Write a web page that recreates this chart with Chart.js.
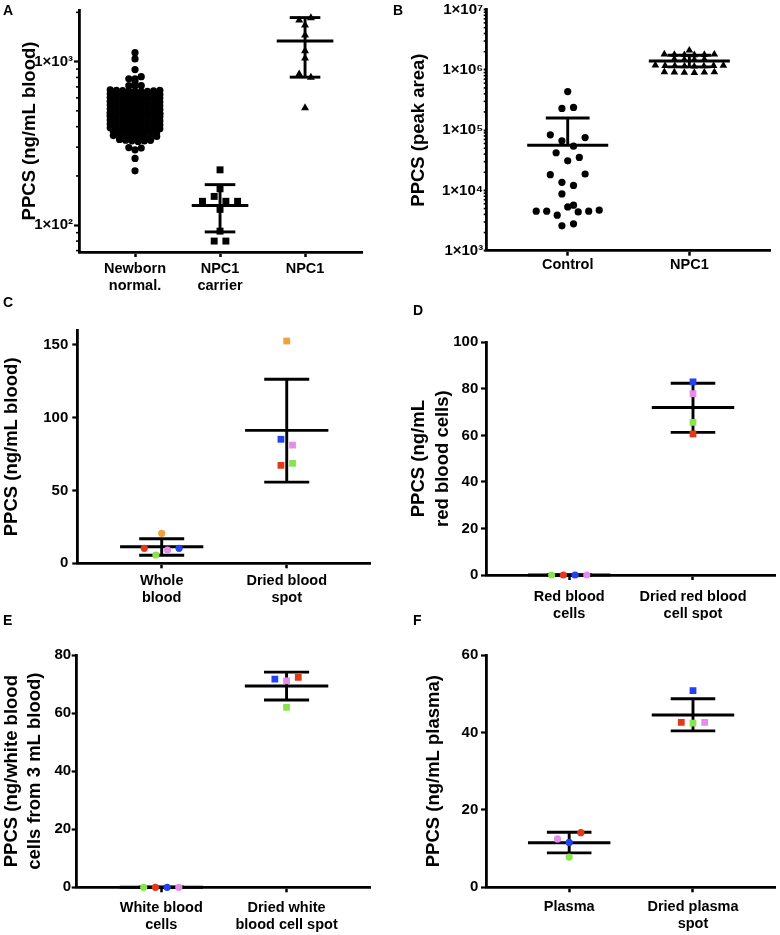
<!DOCTYPE html>
<html><head><meta charset="utf-8">
<script src="https://cdn.jsdelivr.net/npm/chart.js@4.4.1/dist/chart.umd.min.js"></script>
<style>
html,body{margin:0;padding:0;background:#fff}
#wrap{position:relative;width:780px;height:935px;overflow:hidden;background:#fff}
canvas{position:absolute}
.letter{position:absolute;font:bold 14px "Liberation Sans",Arial,sans-serif;line-height:14px;color:#000}
</style></head><body><div id="wrap">
<canvas id="cA" width="390" height="300" style="left:0;top:0"></canvas>
<canvas id="cB" width="390" height="300" style="left:390px;top:0"></canvas>
<canvas id="cC" width="390" height="320" style="left:0;top:300px"></canvas>
<canvas id="cD" width="390" height="320" style="left:390px;top:300px"></canvas>
<canvas id="cE" width="390" height="315" style="left:0;top:620px"></canvas>
<canvas id="cF" width="390" height="315" style="left:390px;top:620px"></canvas>
<div class="letter" style="left:3px;top:3px">A</div>
<div class="letter" style="left:393px;top:3px">B</div>
<div class="letter" style="left:3px;top:295px">C</div>
<div class="letter" style="left:413px;top:303px">D</div>
<div class="letter" style="left:3px;top:613px">E</div>
<div class="letter" style="left:413px;top:613px">F</div>
</div>
<script>
// ---------------- DATA ----------------
const palette = {orange:'#F0A03C', red:'#E2391B', blue:'#2343F0', violet:'#E68CEF', green:'#88E34E'};

// Panel A
const catsA = [['Newborn','normal.'], ['NPC1','carrier'], 'NPC1'];
const newbornA = [
 1134, 1038, 894, 785, 785, 808, 752, 712, 712, 712,
 672, 668, 664, 660, 657, 655, 658, 662, 666,
 636, 632, 628, 625, 622, 620, 623, 626, 630,
 603, 599, 596, 593, 590, 588, 591, 594, 598,
 572, 568, 565, 562, 559, 557, 560, 563, 566,
 543, 539, 536, 533, 530, 528, 531, 534, 537,
 515, 511, 508, 505, 502, 500, 503, 506, 509,
 488, 485, 482, 479, 476, 474, 477, 480, 483,
 463, 460, 457, 454, 451, 449, 452, 455, 458,
 439, 436, 433, 430, 427, 425, 428, 431, 434,
 416, 413, 410, 407, 404, 402, 405, 408, 411,
 394, 391, 388, 385, 383, 381, 384, 386, 389,
 373, 370, 367, 364, 362, 363, 366, 369,
 353, 350, 347, 344, 342, 343, 346, 349,
 334, 331, 328, 325, 327, 330,
 298, 289, 296, 256, 215];
const carrierA = [218, 167, 140, 150, 140, 140, 125, 92, 80, 80];
const npc1A = [1789, 1848, 1669, 1451, 1161, 1047, 838, 800, 521];
const meanA = [477, 132, 1335];
const sdHiA = [650, 177, 1857];
const sdLoA = [330, 91, 803];
const yTicksA = [100, 1000];

// Panel B
const catsB = ['Control', 'NPC1'];
const controlB = [436000, 229000, 238000, 83400, 66400, 54100, 75200, 42100, 30900, 35200,
 18200, 13600, 12100, 18700, 8730, 4520, 4520, 3880, 5320, 4400, 4520, 4700, 5680, 2590, 2790];
const npc1B = [2100000,
 1810000, 1790000, 1770000, 1760000, 1780000, 1800000,
 1500000, 1480000, 1470000, 1490000,
 1190000, 1170000, 1160000, 1150000, 1140000, 1150000, 1170000, 1180000,
 920000, 910000, 900000, 895000, 905000, 915000];
const meanB = [56100, 1400000];
const sdHiB = [159000, 1740000];
const sdLoB = [null, 1120000];
const yTicksB = [1e3, 1e4, 1e5, 1e6, 1e7];

// Panel C
const catsC = [['Whole','blood'], ['Dried blood','spot']];
const wholeColorsC = ['red','green','violet','blue','orange'];
const wholeC = [10.3, 5.7, 9.1, 10.3, 20.6];
const spotColorsC = ['orange','blue','violet','red','green'];
const spotC = [152.7, 85.2, 81.2, 67.3, 68.7];
const meanC = [11.4, 91.3];
const sdHiC = [16.9, 126.4];
const sdLoC = [5.5, 55.8];
const yTicksC = [0, 50, 100, 150];

// Panel D
const catsD = [['Red blood','cells'], ['Dried red blood','cell spot']];
const rbcColorsD = ['green','red','blue','violet'];
const rbcD = [0, 0, 0, 0];
const spotColorsD = ['blue','violet','green','red'];
const spotD = [83.0, 77.9, 65.6, 60.6];
const meanD = [0, 72.0];
const sdHiD = [0, 82.4];
const sdLoD = [0, 61.3];
const yTicksD = [0, 20, 40, 60, 80, 100];

// Panel E
const catsE = [['White blood','cells'], ['Dried white','blood cell spot']];
const wbcColorsE = ['green','red','blue','violet'];
const wbcE = [0, 0, 0, 0];
const spotColorsE = ['blue','violet','red','green'];
const spotE = [71.7, 71.1, 72.3, 62.0];
const meanE = [0, 69.3];
const sdHiE = [0, 74.1];
const sdLoE = [0, 64.5];
const yTicksE = [0, 20, 40, 60, 80];

// Panel F
const catsF = ['Plasma', ['Dried plasma','spot']];
const plasmaColorsF = ['violet','blue','red','green'];
const plasmaF = [12.5, 11.6, 14.1, 7.8];
const spotColorsF = ['blue','red','green','violet'];
const spotF = [50.8, 42.6, 42.4, 42.6];
const meanF = [11.5, 44.5];
const sdHiF = [14.2, 48.7];
const sdLoF = [8.9, 40.4];
const yTicksF = [0, 20, 40, 60];

// ---------------- HELPERS ----------------
const FONT = '"Liberation Sans", Arial, Helvetica, sans-serif';
const SUP = {'0':'⁰','1':'¹','2':'²','3':'³','4':'⁴','5':'⁵','6':'⁶','7':'⁷','8':'⁸','9':'⁹'};
const sci = v => '1×10' + String(Math.round(Math.log10(v))).split('').map(d=>SUP[d]).join('');
const store = {};

const errBars = {id:'errBars', beforeDatasetsDraw(chart){
  const st = store[chart.canvas.id]; if (!st) return;
  const {ctx} = chart; const xs = chart.scales.x, ys = chart.scales.y;
  ctx.save(); ctx.strokeStyle = '#000'; ctx.lineWidth = 2.9; ctx.lineCap = 'butt';
  const seg = (x1, x2, y) => { ctx.beginPath(); ctx.moveTo(xs.getPixelForValue(x1), y); ctx.lineTo(xs.getPixelForValue(x2), y); ctx.stroke(); };
  st.centers.forEach((c, i) => {
    const yM = ys.getPixelForValue(st.means[i]);
    seg(c - 0.333, c + 0.333, yM);
    const yH = ys.getPixelForValue(st.hi[i]);
    seg(c - 0.18, c + 0.18, yH);
    let yL = yM;
    if (st.lo[i] != null) { yL = ys.getPixelForValue(st.lo[i]); seg(c - 0.18, c + 0.18, yL); }
    const xc = xs.getPixelForValue(c);
    ctx.beginPath(); ctx.moveTo(xc, yH); ctx.lineTo(xc, yL); ctx.stroke();
  });
  ctx.restore();
}};

const minorTicks = {id:'minorTicks', afterDraw(chart){
  const st = store[chart.canvas.id]; if (!st || !st.minor) return;
  const ys = chart.scales.y; const {ctx} = chart; const x0 = chart.chartArea.left;
  ctx.save(); ctx.strokeStyle = '#000'; ctx.lineWidth = 1.6;
  const lo = Math.floor(Math.log10(ys.min)), hi = Math.ceil(Math.log10(ys.max));
  for (let e = lo; e < hi; e++) for (let m = 2; m <= 9; m++) {
    const v = m * Math.pow(10, e); if (v < ys.min || v > ys.max) continue;
    const p = ys.getPixelForValue(v);
    ctx.beginPath(); ctx.moveTo(x0 - st.minor, p); ctx.lineTo(x0, p); ctx.stroke();
  }
  ctx.restore();
}};

function layoutSwarm(chart, groups){
  const xs = chart.scales.x, ys = chart.scales.y;
  const unit = xs.getPixelForValue(1) - xs.getPixelForValue(0);
  groups.forEach((g, di) => {
    const pts = g.values.map((v, i) => ({v, i, py: ys.getPixelForValue(v)}));
    const sorted = pts.slice().sort((a, b) => a.py - b.py || a.i - b.i);
    const rows = []; let cur = null;
    sorted.forEach(p => { if (cur && p.py - cur.start <= g.binH) cur.items.push(p); else { cur = {start: p.py, items: [p]}; rows.push(cur); } });
    const out = new Array(pts.length);
    rows.forEach(r => {
      r.items.sort((a, b) => a.i - b.i);
      const n = r.items.length;
      const sp = n > 1 ? Math.min(g.spacing, g.maxW / (n - 1)) : 0;
      r.items.forEach((p, k) => { out[p.i] = {x: g.center + (k - (n - 1) / 2) * sp / unit, y: p.v}; });
    });
    chart.data.datasets[di].data = out;
  });
  chart.update('none');
}

function makePanel(id, p){
  store[id] = {centers: p.groups.map(g => g.center), means: p.means, hi: p.hi, lo: p.lo, minor: p.minor || 0};
  const datasets = p.groups.map(g => ({
    data: g.values.map(v => ({x: g.center, y: v})),
    pointStyle: g.style, pointRadius: g.radius, pointHoverRadius: g.radius,
    pointBackgroundColor: g.colors ? g.colors.map(c => palette[c]) : '#000',
    pointBorderWidth: 0, borderWidth: 0, showLine: false, clip: false
  }));
  const xFont = {family: FONT, size: 14.5, weight: 'bold', lineHeight: 1.18};
  const yFont = {family: FONT, size: 15, weight: 'bold', lineHeight: 1.2};
  const chart = new Chart(document.getElementById(id), {
    type: 'scatter',
    data: {datasets},
    plugins: [errBars, minorTicks],
    options: {
      responsive: false, animation: false, events: [],
      layout: {padding: {left: 0, top: p.padTop, right: p.padRight, bottom: 0}},
      plugins: {legend: {display: false}, tooltip: {enabled: false}},
      scales: {
        x: {type: 'linear', min: p.xMin, max: p.xMax,
          afterBuildTicks: s => { s.ticks = p.groups.map((g, i) => ({value: i + 1})); },
          afterFit: s => { s.height = p.xH; },
          ticks: {callback: (v, i) => p.cats[i], autoSkip: false, maxRotation: 0, minRotation: 0, padding: p.xTickPad, color: '#000', font: xFont},
          grid: {display: true, drawOnChartArea: false, drawTicks: true, tickLength: 5, tickWidth: 2.5, tickColor: '#000', color: '#000'},
          border: {display: true, color: '#000', width: 2.8}},
        y: {type: p.yType, min: p.yMin, max: p.yMax,
          afterBuildTicks: s => { s.ticks = p.yTicks.map(v => ({value: v})); },
          afterFit: s => { s.width = p.yW; },
          ticks: {callback: (v, i) => p.yLabels[i], autoSkip: false, padding: p.yTickPad, color: '#000', font: yFont},
          grid: {display: true, drawOnChartArea: false, drawTicks: true, tickLength: p.yTickLen, tickWidth: 2.2, tickColor: '#000', color: '#000'},
          border: {display: true, color: '#000', width: 2.8},
          title: {display: true, text: p.title, color: '#000', font: {family: FONT, size: 18.5, weight: 'bold', lineHeight: 1.25}, padding: {top: p.titlePad, bottom: 0}}}
      }
    }
  });
  layoutSwarm(chart, p.groups);
  return chart;
}

// ---------------- PANELS ----------------
makePanel('cA', {
  cats: catsA, xMin: 0.341, xMax: 3.67, yType: 'logarithmic', yMin: 68.6, yMax: 2066,
  yTicks: yTicksA, yLabels: yTicksA.map(sci), title: 'PPCS (ng/mL blood)',
  padTop: 8, padRight: 28, yW: 79, xH: 48, yTickLen: 5, yTickPad: 1, titlePad: 18.5, xTickPad: 3, minor: 3,
  means: meanA, hi: sdHiA, lo: sdLoA,
  groups: [
    {values: newbornA, center: 1, style: 'circle', radius: 3.6, binH: 3.5, spacing: 6.2, maxW: 50},
    {values: carrierA, center: 2, style: 'rect', radius: 4.9, binH: 6, spacing: 11.7, maxW: 60},
    {values: npc1A, center: 3, style: 'triangle', radius: 4.6, binH: 6, spacing: 11.7, maxW: 60}
  ]
});
makePanel('cB', {
  cats: catsB, xMin: 0.334, xMax: 2.663, yType: 'logarithmic', yMin: 1e3, yMax: 1e7,
  yTicks: yTicksB, yLabels: yTicksB.map(sci), title: 'PPCS (peak area)',
  padTop: 8.3, padRight: 10, yW: 96.7, xH: 49.3, yTickLen: 3, yTickPad: 0.5, titlePad: 17, xTickPad: 1, minor: 3,
  means: meanB, hi: sdHiB, lo: sdLoB,
  groups: [
    {values: controlB, center: 1, style: 'circle', radius: 3.6, binH: 12, spacing: 11.6, maxW: 63},
    {values: npc1B, center: 2, style: 'triangle', radius: 4.4, binH: 3, spacing: 10, maxW: 68}
  ]
});
makePanel('cC', {
  cats: catsC, xMin: 0.325, xMax: 2.666, yType: 'linear', yMin: 0, yMax: 160,
  yTicks: yTicksC, yLabels: yTicksC.map(String), title: 'PPCS (ng/mL blood)',
  padTop: 30.4, padRight: 20, yW: 77.3, xH: 56.7, yTickLen: 5, yTickPad: 4, titlePad: 0.75, xTickPad: 4,
  means: meanC, hi: sdHiC, lo: sdLoC,
  groups: [
    {values: wholeC, colors: wholeColorsC, center: 1, style: 'circle', radius: 3.6, binH: 10.5, spacing: 11.6, maxW: 60},
    {values: spotC, colors: spotColorsC, center: 2, style: 'rect', radius: 4.8, binH: 10.5, spacing: 11.6, maxW: 60}
  ]
});
makePanel('cD', {
  cats: catsD, xMin: 0.328, xMax: 2.664, yType: 'linear', yMin: 0, yMax: 100,
  yTicks: yTicksD, yLabels: yTicksD.map(String), title: ['PPCS (ng/mL', 'red blood cells)'],
  padTop: 42.3, padRight: 2, yW: 96, xH: 45, yTickLen: 5, yTickPad: 2.7, titlePad: 17.75, xTickPad: 8.5,
  means: meanD, hi: sdHiD, lo: sdLoD,
  groups: [
    {values: rbcD, colors: rbcColorsD, center: 1, style: 'circle', radius: 3.6, binH: 10.5, spacing: 11.7, maxW: 60},
    {values: spotD, colors: spotColorsD, center: 2, style: 'rect', radius: 4.8, binH: 10.5, spacing: 11.7, maxW: 60}
  ]
});
makePanel('cE', {
  cats: catsE, xMin: 0.325, xMax: 2.666, yType: 'linear', yMin: 0, yMax: 80,
  yTicks: yTicksE, yLabels: yTicksE.map(String), title: ['PPCS (ng/white blood', 'cells from 3 mL blood)'],
  padTop: 35, padRight: 20, yW: 76.7, xH: 47.7, yTickLen: 5, yTickPad: 0.5, titlePad: 0, xTickPad: 7,
  means: meanE, hi: sdHiE, lo: sdLoE,
  groups: [
    {values: wbcE, colors: wbcColorsE, center: 1, style: 'circle', radius: 3.6, binH: 10.5, spacing: 11.7, maxW: 60},
    {values: spotE, colors: spotColorsE, center: 2, style: 'rect', radius: 4.8, binH: 10.5, spacing: 11.7, maxW: 60}
  ]
});
makePanel('cF', {
  cats: catsF, xMin: 0.328, xMax: 2.664, yType: 'linear', yMin: 0, yMax: 60,
  yTicks: yTicksF, yLabels: yTicksF.map(String), title: 'PPCS (ng/mL plasma)',
  padTop: 35, padRight: 2, yW: 96, xH: 47.7, yTickLen: 5, yTickPad: 2.7, titlePad: 32.75, xTickPad: 6,
  means: meanF, hi: sdHiF, lo: sdLoF,
  groups: [
    {values: plasmaF, colors: plasmaColorsF, center: 1, style: 'circle', radius: 3.6, binH: 10.5, spacing: 11.7, maxW: 60},
    {values: spotF, colors: spotColorsF, center: 2, style: 'rect', radius: 4.8, binH: 10.5, spacing: 11.7, maxW: 60}
  ]
});
</script>
</body></html>
